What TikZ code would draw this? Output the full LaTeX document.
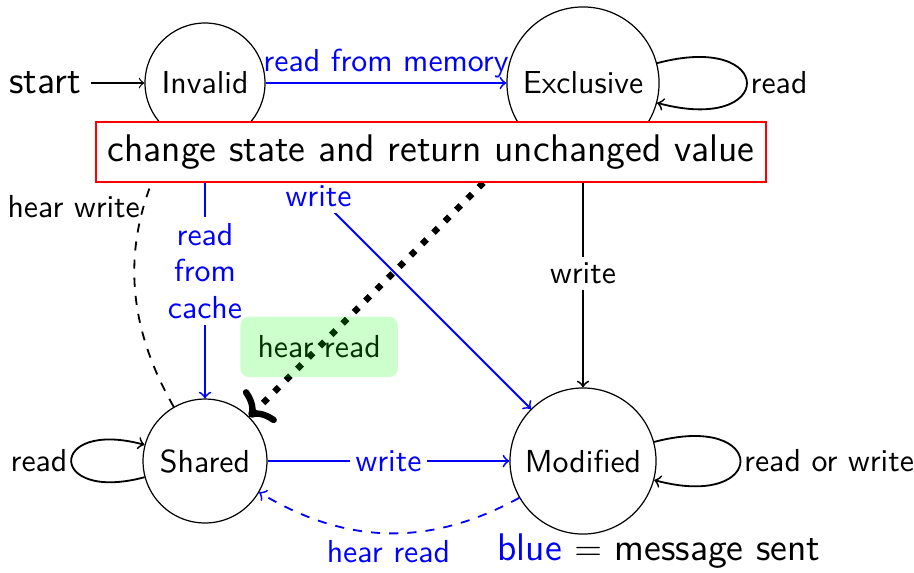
\documentclass[tikz,border=0pt]{standalone}
\usepackage{tikz}
\usetikzlibrary{arrows.meta}
\newcommand{\normaltext}{\sffamily\fontsize{10.5}{12}\selectfont}
\newcommand{\bigtext}{\sffamily\fontsize{12.7}{15}\selectfont}
\begin{document}
\begin{tikzpicture}[x=0.33pt, y=0.33pt, >=to,
  every node/.style={font=\normaltext},
  state/.style={circle, draw, thin, inner sep=0pt},
  link/.style={->, semithick},
  msg/.style={->, semithick, blue},
  lbl/.style={fill=white, inner sep=2pt},
  heavy/.style={line width=2.1pt},
  hearbox/.style={fill=green, fill opacity=0.2, text opacity=1,
    text=green!20!black, rounded corners=3pt, inner sep=0pt,
    minimum width=52pt, minimum height=20pt},
  notebox/.style={draw=red, line width=0.7pt, fill=white, inner sep=0pt,
    font=\bigtext, minimum width=221.1pt, minimum height=19.8pt}]
\useasboundingbox (0,0) rectangle (914,572);

% states
\node[state, minimum size=39.6pt] (I) at (205,489) {Invalid};
\node[state, minimum size=50.2pt] (E) at (583,489) {Exclusive};
\node[state, minimum size=40.9pt] (S) at (205,111) {Shared};
\node[state, minimum size=48.2pt] (M) at (583,111) {Modified};

% initial arrow
\node[font=\bigtext] (start) at (45,489) {start};
\draw[->, thin] (start) -- (I);

% transitions
\draw[msg] (I) -- node[above, inner sep=1.2pt] {read from memory} (E);
\draw[link] (E) to[loop right] node[right, inner sep=1pt] {read} (E);
\draw[link] (E) -- node[lbl] {write} (M);
\draw[msg] (I) -- node[lbl, align=center] {read\\from\\cache} (S);
\draw[msg] (I) -- node[lbl, pos=0.25] {write} (M);
\draw[msg] (S) -- node[lbl] {write} (M);
\draw[msg, dashed] (M) to[bend left=30] node[below, inner sep=2pt] {hear read} (S);
\draw[link, dashed] (S) to[bend left=30] node[pos=0.74, anchor=east, inner sep=1pt] {hear write} (I);
\draw[link] (S) to[loop left] node[left, inner sep=1pt] {read} (S);
\draw[link] (M) to[loop right] node[right, inner sep=1pt] {read or write} (M);

% heavy dotted transition: dotted shaft, solid head
\draw[heavy, dash pattern=on 2.1pt off 3.2pt, shorten >=6pt]
  (E) -- coordinate[pos=0.975] (headstart) node[pos=0.75, hearbox] {hear read} (S);
\draw[heavy, -{Computer Modern Rightarrow[length=6pt, width=15pt, line width=2.1pt]}]
  (headstart) -- (S);

% note on top
\node[notebox] (note) at (431,420) {change state and return unchanged value};

% key
\node[font=\bigtext] (key) at (659,21) {\textcolor{blue}{blue} $=$ message sent};
\end{tikzpicture}
\end{document}
